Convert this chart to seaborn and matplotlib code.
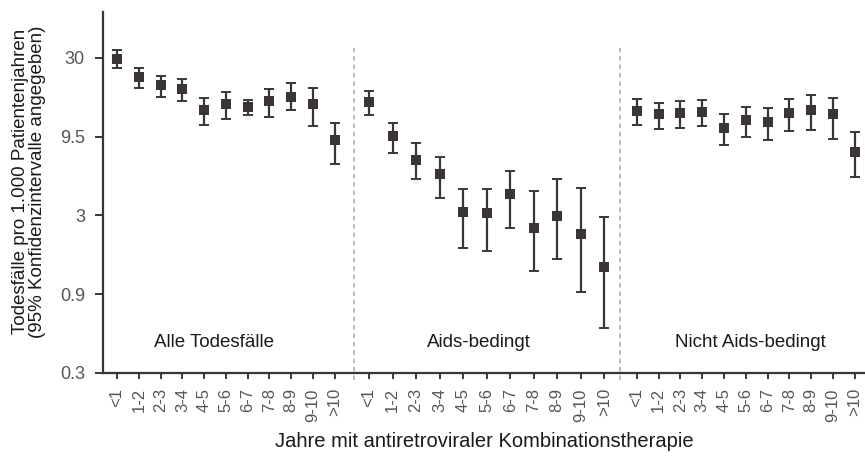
import numpy as np
import pandas as pd
import matplotlib
matplotlib.use("Agg")
import matplotlib.pyplot as plt
import seaborn as sns

sns.set_style("ticks")
plt.rcParams['font.family'] = ['Liberation Sans', 'DejaVu Sans']

# Daten
jahre = ['<1', '1-2', '2-3', '3-4', '4-5', '5-6', '6-7', '7-8', '8-9', '9-10', '>10']
gruppen = ['Alle Todesfälle', 'Aids-bedingt', 'Nicht Aids-bedingt']

alle_rate = [29.6, 22.6, 20.1, 19.0, 14.0, 15.2, 14.6, 15.9, 17.0, 15.3, 9.0]
alle_oben = [33.4, 25.8, 23.1, 22.1, 16.7, 18.1, 16.2, 19.1, 20.7, 19.4, 11.6]
alle_unten = [25.7, 19.3, 16.9, 16.0, 11.3, 12.2, 13.0, 12.7, 14.0, 11.1, 6.4]

aids_rate = [15.8, 9.55, 6.78, 5.48, 3.14, 3.11, 4.12, 2.50, 2.98, 2.28, 1.42]
aids_oben = [18.6, 11.6, 8.62, 7.02, 4.40, 4.44, 5.75, 4.27, 5.09, 4.46, 2.92]
aids_unten = [13.0, 7.45, 5.09, 3.86, 1.85, 1.77, 2.51, 1.34, 1.58, 0.98, 0.58]

nicht_rate = [13.8, 13.2, 13.4, 13.6, 10.8, 12.1, 11.8, 13.4, 14.0, 13.2, 7.62]
nicht_oben = [16.4, 15.6, 15.9, 16.1, 13.2, 14.7, 14.5, 16.5, 17.5, 16.7, 10.1]
nicht_unten = [11.2, 10.6, 10.8, 11.0, 8.44, 9.45, 9.04, 10.3, 10.4, 9.18, 5.24]

ytick_werte = [0.3, 0.3 * 10 ** 0.5, 3, 3 * 10 ** 0.5, 30]
ytick_labels = ['0.3', '0.9', '3', '9.5', '30']

# Layout der Gruppen auf der x-Achse
start = [0.0, 11.57, 23.87]
schritt = [1.0, 1.08, 1.0]
trenner = [10.88, 23.09]

rows = []
for g, (r, o, u) in enumerate([(alle_rate, alle_oben, alle_unten),
                               (aids_rate, aids_oben, aids_unten),
                               (nicht_rate, nicht_oben, nicht_unten)]):
    for i, j in enumerate(jahre):
        rows.append({'Gruppe': gruppen[g], 'Jahre': j,
                     'x': start[g] + i * schritt[g],
                     'Rate': r[i], 'Oben': o[i], 'Unten': u[i]})
df = pd.DataFrame(rows)

farbe = '#3b3536'
fig = plt.figure(figsize=(8.65, 4.57), dpi=100)
ax = fig.add_axes([0.119, 0.184, 0.885, 0.79])

ax.errorbar(df['x'], df['Rate'],
            yerr=[df['Rate'] - df['Unten'], df['Oben'] - df['Rate']],
            fmt='none', ecolor=farbe, elinewidth=1.6, capsize=3.5, capthick=1.4)
sns.scatterplot(data=df, x='x', y='Rate', marker='s', s=42, color=farbe,
                edgecolor=farbe, linewidth=0, ax=ax, zorder=3)

ax.set_yscale('log')
ax.set_ylim(0.3, 58.7)
ax.set_xlim(-0.645, 34.5)
ax.set_yticks(ytick_werte)
ax.set_yticklabels(ytick_labels)
ax.minorticks_off()
ax.set_xticks(df['x'])
ax.set_xticklabels(df['Jahre'], rotation=90)
ax.tick_params(axis='x', colors=farbe, labelcolor='#555555', labelsize=12,
               length=4, width=1.4, pad=7)
ax.tick_params(axis='y', colors=farbe, labelcolor='#555555', labelsize=13,
               length=6, width=1.4, pad=7)

for x in trenner:
    ax.plot([x, x], [0.271, 34.7], ls=(0, (3, 2.5)), color='#a8a8a8', lw=1.1,
            clip_on=False, zorder=1)

for g, x in zip(gruppen, [4.45, 16.6, 29.1]):
    ax.text(x, 0.465, g, ha='center', va='center', fontsize=13.5, color='#1a1a1a')

ax.set_xlabel('Jahre mit antiretroviraler Kombinationstherapie', fontsize=14.5,
              color='#1a1a1a')
ax.xaxis.set_label_coords(0.498, -0.165)
ax.set_ylabel('Todesfälle pro 1.000 Patientenjahren\n(95% Konfidenzintervalle angegeben)',
              fontsize=13.5, color='#1a1a1a', linespacing=1.0)
ax.yaxis.set_label_coords(-0.074, 0.53)

sns.despine(ax=ax)
for s in ['left', 'bottom']:
    ax.spines[s].set_color(farbe)
    ax.spines[s].set_linewidth(1.6)

fig.savefig('out.png', dpi=100)
